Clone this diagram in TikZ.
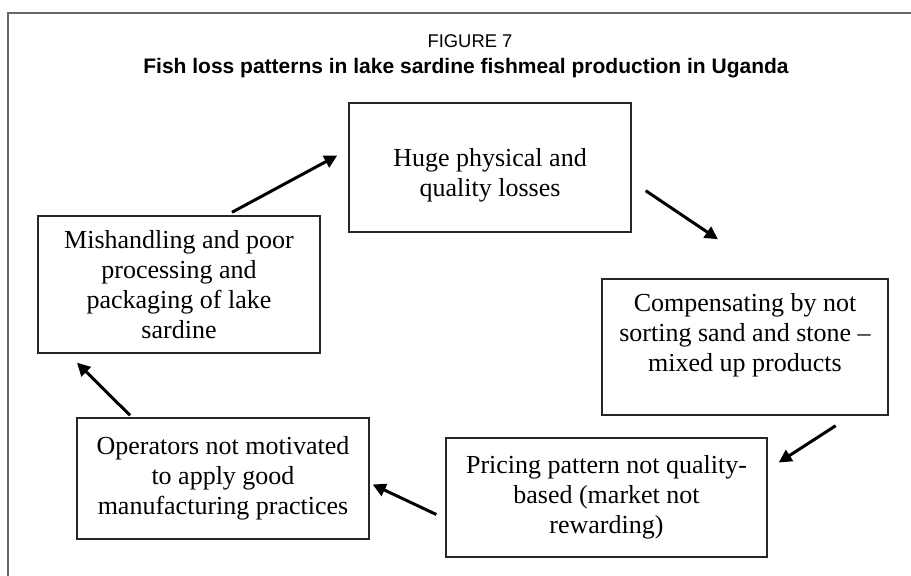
\documentclass[tikz,border=0pt]{standalone}
\usepackage{fontspec}
\setmainfont{Liberation Serif}
\setsansfont{Liberation Sans}
\usetikzlibrary{arrows.meta}
\begin{document}
\begin{tikzpicture}[x=0.5pt,y=-0.5pt,
  kasten/.style={draw=black!85,line width=0.7pt,align=center,inner sep=0pt,
    font=\fontsize{13}{15}\selectfont},
  pfeil/.style={draw=black,line width=1.5pt,-{Triangle[length=6.5pt,width=6.5pt]}}]
\useasboundingbox (0,0) rectangle (911,576);
%Rahmen
	\draw[draw=black!60,line width=1pt] (911,13) -- (8,13) -- (8,576);
%Titel
	\node (fig) at (470,41)
		{\sffamily\fontsize{9.2}{11}\selectfont FIGURE 7};
	\node (title) at (466,68)
		{\sffamily\bfseries\fontsize{10.5}{12}\selectfont Fish loss patterns in lake sardine fishmeal production in Uganda};
%Kästen
	\node[kasten,minimum width=141pt,minimum height=64.5pt,text height=32pt,text depth=3pt] (huge) at (490,167.5)
		{Huge physical and\\quality losses};
	\node[kasten,minimum width=143pt,minimum height=68pt] (comp) at (745,347)
		{Compensating by not\\sorting sand and stone –\\mixed up products\\~};
	\node[kasten,minimum width=160.5pt,minimum height=59.5pt] (price) at (606.5,497.5)
		{Pricing pattern not quality-\\based (market not\\rewarding)};
	\node[kasten,minimum width=146pt,minimum height=60.5pt] (oper) at (223,478.5)
		{Operators not motivated\\to apply good\\manufacturing practices};
	\node[kasten,minimum width=141pt,minimum height=68.5pt] (mish) at (179,284.5)
		{Mishandling and poor\\processing and\\packaging of lake\\sardine};
%Pfeile
	\draw[pfeil] ([shift={(53,-3)}]mish.north) -- ([shift={(-11,-12)}]huge.west);
	\draw[pfeil] ([shift={(14,-42)}]huge.south east) -- ([shift={(-27,-39)}]comp.north);
	\draw[pfeil] ([shift={(-53,10)}]comp.south east) -- ([shift={(11,-35)}]price.east);
	\draw[pfeil] ([shift={(-9,17)}]price.west) -- ([shift={(3,6)}]oper.east);
	\draw[pfeil] ([shift={(-93,-2)}]oper.north) -- ([shift={(-102,9)}]mish.south);
\end{tikzpicture}
\end{document}
